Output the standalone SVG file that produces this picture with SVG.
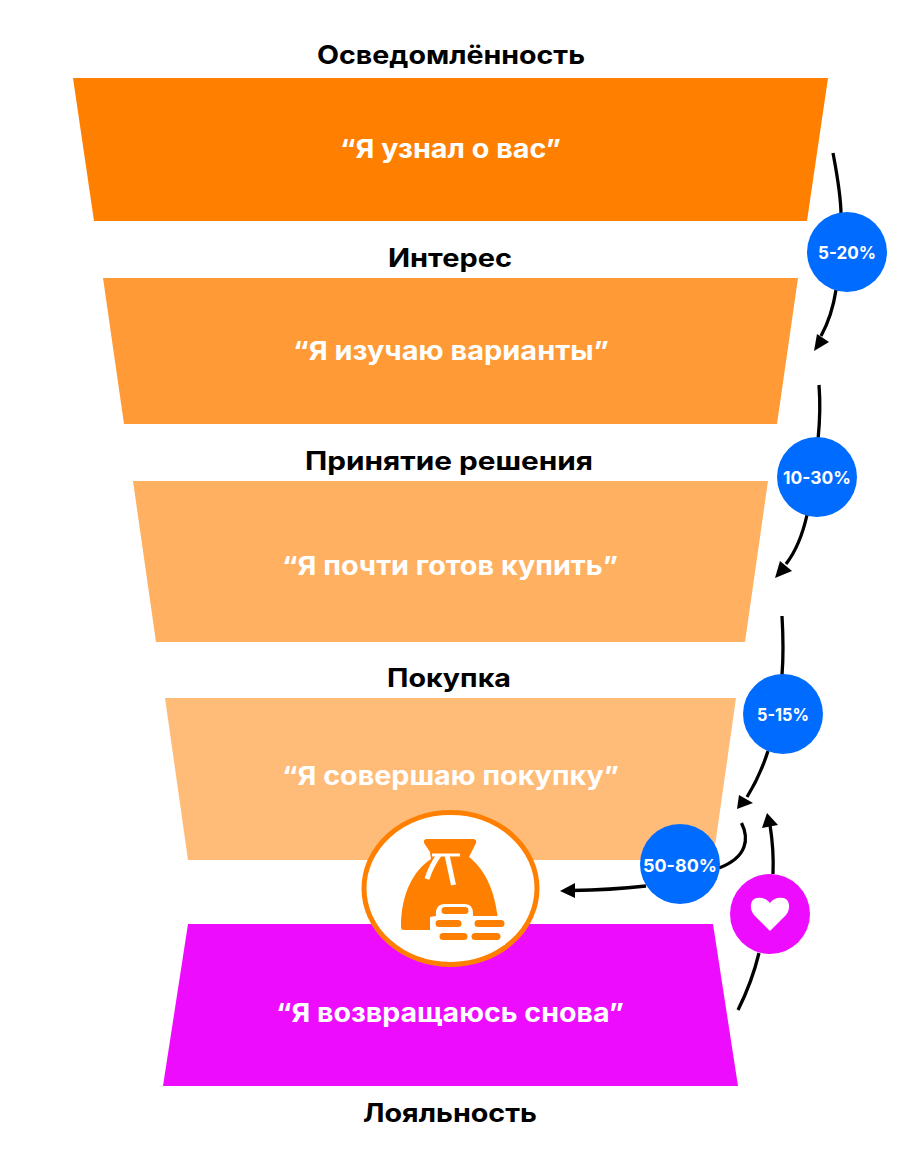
<svg xmlns="http://www.w3.org/2000/svg" width="901" height="1167" viewBox="0 0 901 1167">
<style>
text{font-family:"Inter","Noto Sans","Liberation Sans",sans-serif;font-weight:700;text-anchor:middle}
.t{font-size:25.5px;fill:#000}
.q{font-size:26px;fill:#fff}
.p{font-size:17.5px;fill:#fff}
.c{fill:none;stroke:#000;stroke-width:3.3}
.b{fill:#006cff}
.a{fill:#000}
.o{fill:#ff8000}
.w{fill:none;stroke:#ff8000;stroke-width:7;stroke-linecap:round}
</style>
<rect width="901" height="1167" fill="#fff"/>
<g id="awareness"><text class="t" x="451" y="64" textLength="268" lengthAdjust="spacingAndGlyphs">Осведомлённость</text><polygon points="73,78 828,78 807,221 94,221" fill="#ff8000"/><text class="q" x="450.500" y="158" textLength="221" lengthAdjust="spacingAndGlyphs">“Я узнал о вас”</text></g>
<g id="interest"><text class="t" x="450" y="267" textLength="124" lengthAdjust="spacingAndGlyphs">Интерес</text><polygon points="103,278 798,278 777,424 124,424" fill="#ff9a36"/><text class="q" x="451" y="360" textLength="316" lengthAdjust="spacingAndGlyphs">“Я изучаю варианты”</text></g>
<g id="decision"><text class="t" x="449" y="470" textLength="288" lengthAdjust="spacingAndGlyphs">Принятие решения</text><polygon points="133,481 768,481 745,642 156,642" fill="#ffb061"/><text class="q" x="450" y="575" textLength="336" lengthAdjust="spacingAndGlyphs">“Я почти готов купить”</text></g>
<g id="purchase"><text class="t" x="449" y="687" textLength="124" lengthAdjust="spacingAndGlyphs">Покупка</text><polygon points="165,698 736,698 713,860 188,860" fill="#ffbb78"/><text class="q" x="450.500" y="785" textLength="337" lengthAdjust="spacingAndGlyphs">“Я совершаю покупку”</text></g>
<g id="loyalty"><polygon points="188,924 713,924 738,1086 163,1086" fill="#ee0cff"/><text class="q" x="450" y="1022" textLength="348" lengthAdjust="spacingAndGlyphs">“Я возвращаюсь снова”</text><text class="t" x="450" y="1122" textLength="174" lengthAdjust="spacingAndGlyphs">Лояльность</text></g>
<g id="connectors">
<path class="c" d="M833 153Q841 195 841 215"/>
<path class="c" d="M836 290Q832 316 821 336"/><polygon class="a" points="814,351 817,334 829,342"/>
<path class="c" d="M819 385Q821 410 818 440"/>
<path class="c" d="M807 515Q800 546 786 564"/><polygon class="a" points="775,578 780,561 792,571"/>
<path class="c" d="M782 616Q784 650 782 675"/>
<path class="c" d="M768 751Q760 776 747 797"/><polygon class="a" points="737,809 739,795 753,803"/>
<path class="c" d="M741.500 823C749 838 748 857 719 868"/>
<path class="c" d="M646 886Q610 890 572 890.500"/><polygon class="a" points="560,891 575,883 575,898"/>
<path class="c" d="M773 874Q774 850 770 825"/><polygon class="a" points="767,813 778,825 762,828"/>
<path class="c" d="M759 953Q752 982 738 1010"/>
</g>
<g id="rate-1"><circle class="b" cx="847" cy="252" r="40"/><text class="p" x="847" y="258.500" textLength="58" lengthAdjust="spacingAndGlyphs">5-20%</text></g>
<g id="rate-2"><circle class="b" cx="817" cy="477" r="40"/><text class="p" x="817" y="484" textLength="68" lengthAdjust="spacingAndGlyphs">10-30%</text></g>
<g id="rate-3"><circle class="b" cx="783" cy="714" r="40"/><text class="p" x="783" y="720.500" textLength="52" lengthAdjust="spacingAndGlyphs">5-15%</text></g>
<g id="rate-4"><circle class="b" cx="680" cy="864" r="40"/><text class="p" x="680" y="871.500" textLength="74" lengthAdjust="spacingAndGlyphs">50-80%</text></g>
<g id="heart"><circle cx="770" cy="914" r="40" fill="#ee0cff"/><path d="M770 931L754 915C749 909 750 899 757 898C763 897 767 899 770 903C773 899 777 897 783 898C790 899 791 909 786 915Z" fill="#fff"/></g>
<g id="money-bag">
<ellipse cx="450.500" cy="888.500" rx="86.500" ry="76" fill="#fff" stroke="#ff8000" stroke-width="5"/>
<path class="o" d="M426 839H474Q477 840 476 843L469 857C482 867 494 886 497.500 916H473V930H404Q401 930 401 927C401 893 414 870 431 859L430 852L424 843Q423 840 426 839Z"/>
<path d="M432 855H460" fill="none" stroke="#fff" stroke-width="3"/>
<path d="M439 855Q431 866 427 879M447 855L453.500 885" fill="none" stroke="#fff" stroke-width="5"/>
<path d="M436 916Q435 904 445 904H465Q473 904 473 914V917H505V945H430V917Z" fill="#fff"/>
<path class="w" d="M445 910.500H465M439 923.500H458M478 923.500H501M443 936.500H464M475 936.500H497"/>
</g>
</svg>
